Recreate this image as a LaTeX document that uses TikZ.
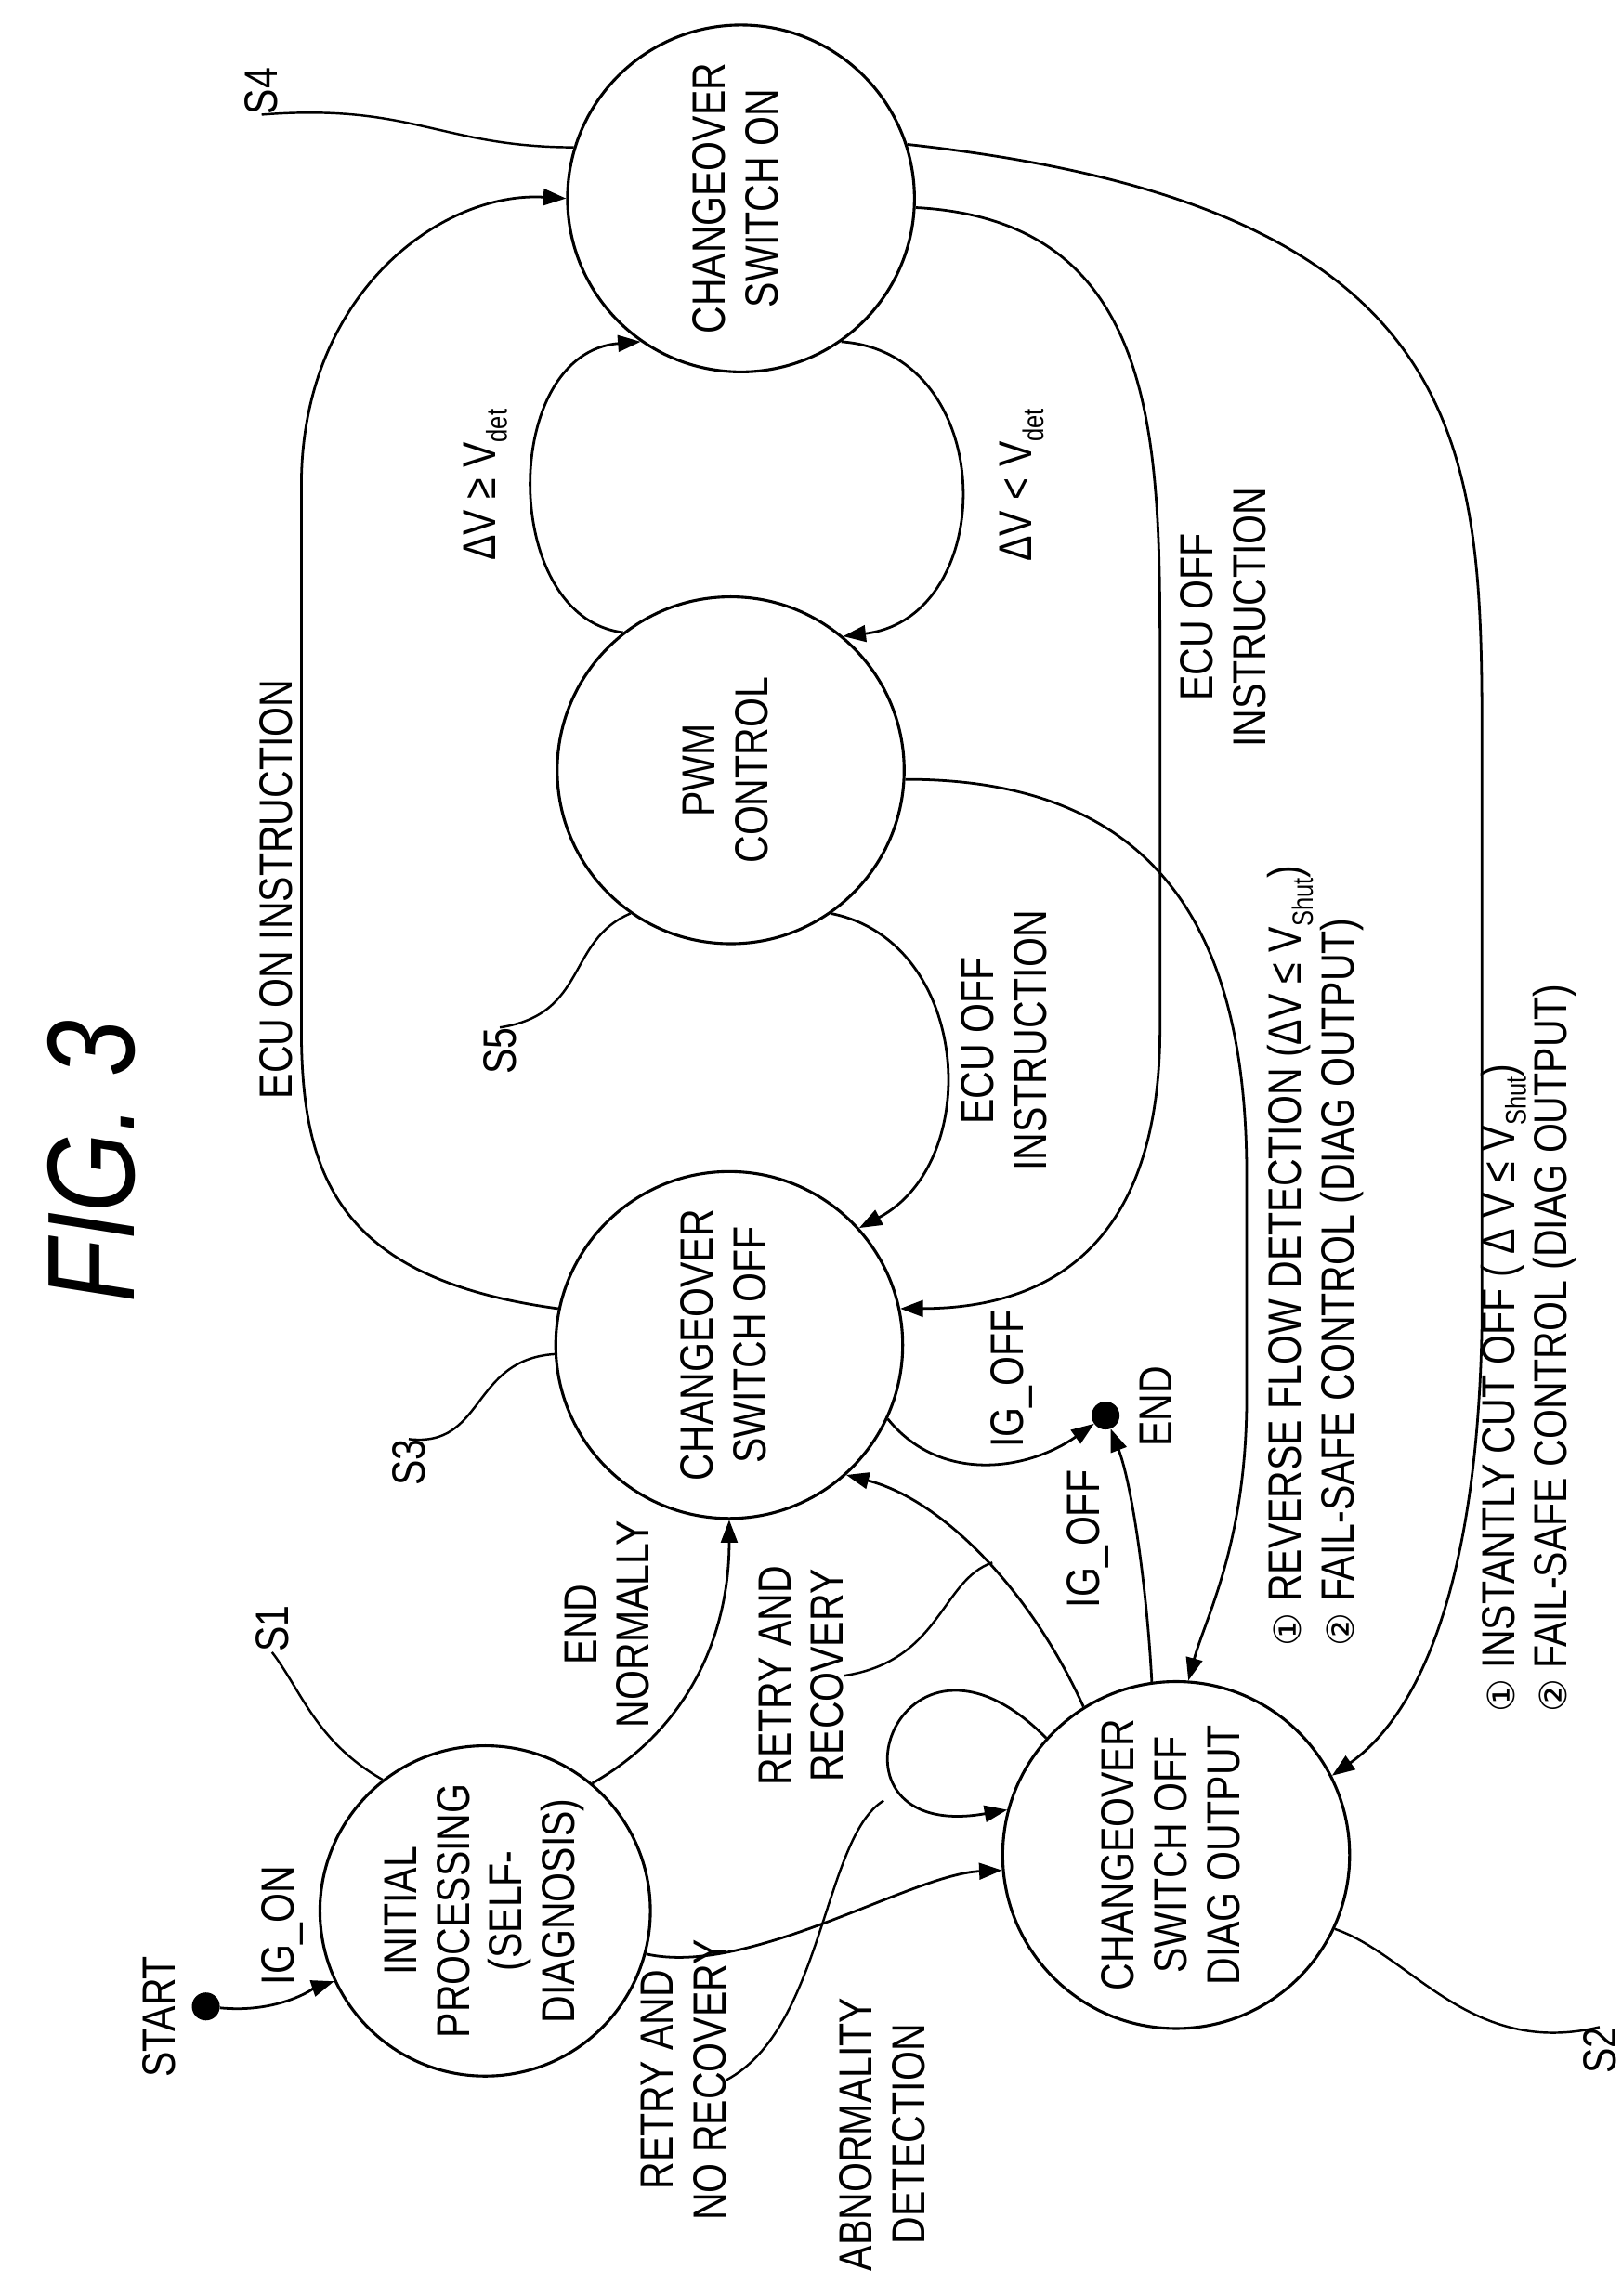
\documentclass[tikz,border=0pt]{standalone}
\usepackage{fontspec}
\setmainfont{Liberation Sans}[FakeStretch=0.82]
\newfontfamily\symf{DejaVu Sans}
\usetikzlibrary{arrows.meta}
\newcommand{\sbx}[1]{\raisebox{-0.25em}{\fontsize{28}{28}\selectfont #1}}
\newcommand{\cnum}[1]{{\symf\fontsize{36}{36}\selectfont #1}}
\newcommand{\rt}[1]{\rotatebox{90}{\begin{tabular}{@{}c@{}}#1\end{tabular}}}
\begin{document}
\begin{tikzpicture}[x=0.05cm,y=-0.05cm,
  st/.style={circle,draw,line width=2.8pt,minimum size=11.8cm,inner sep=0pt,align=center,font=\fontsize{45}{51}\selectfont},
  lb/.style={rotate=90,align=center,font=\fontsize{45}{51}\selectfont,inner sep=0pt},
  ed/.style={line width=2.5pt,-{Triangle[length=22pt,width=16pt]}},
  ld/.style={line width=2.2pt},
  dot/.style={circle,fill=black,minimum size=0.95cm,inner sep=0pt}]
\useasboundingbox (0,0) rectangle (1103,1562);
\node[lb,font=\itshape\fontsize{120}{120}\selectfont] (title) at (62,790) {FIG. 3};
\node[st] (s4) at (504,135) {\rt{CHANGEOVER\\SWITCH ON}};
\node[st] (s5) at (497,524) {\rt{PWM\\CONTROL}};
\node[st] (s3) at (496,915) {\rt{CHANGEOVER\\SWITCH OFF}};
\node[st,minimum size=10cm] (s1) at (330,1300) {\rt{INITIAL\\PROCESSING\\(SELF-\\DIAGNOSIS)}};
\node[st] (s2) at (800,1262) {\rt{CHANGEOVER\\SWITCH OFF\\DIAG OUTPUT}};
\node[dot] (start) at (140,1365) {};
\node[dot] (end) at (752,963) {};
\node[lb] (lstart) at (108,1372) {START};
\node[lb] (lend) at (786,957) {END};
% state labels
\node[lb] (l1) at (185,1108) {S1};
\node[lb] (l2) at (1088,1395) {S2};
\node[lb] (l3) at (278,995) {S3};
\node[lb] (l4) at (178,62) {S4};
\node[lb] (l5) at (340,715) {S5};
\draw[ld] (l1.west) .. controls (205,1150) and (215,1185) .. (s1.128);
\draw[ld] (l2.east) .. controls (1000,1400) and (960,1330) .. (s2.-25);
\draw[ld] (l3.east) .. controls (330,985) and (320,925) .. (s3.183);
\draw[ld] (l4.west) .. controls (280,70) and (300,100) .. (s4.163);
\draw[ld] (l5.east) .. controls (400,690) and (385,640) .. (s5.235);
% edges
\draw[ed] (start) .. controls (190,1370) and (215,1352) .. (s1.205);
\node[lb] (eig) at (192,1310) {IG\_ON};
\draw[ed] (s1.50) .. controls (470,1175) and (496,1110) .. (s3.270);
\node[lb] (en) at (413,1105) {END\\NORMALLY};
\draw[ed] (s1.-15) .. controls (510,1345) and (620,1275) .. (s2.185);
\node[lb] (ab) at (600,1452) {ABNORMALITY\\DETECTION};
\draw[ed] (s2.138) .. controls (610,1080) and (550,1255) .. (s2.165);
\coordinate (lp) at (601,1225);
\node[lb] (rn) at (465,1415) {RETRY AND\\NO RECOVERY};
\draw[ld] (rn.south) .. controls (560,1380) and (560,1250) .. (lp);
\draw[ed] (s2.122) .. controls (700,1080) and (640,1020) .. (s3.-48);
\coordinate (rp) at (675,1063);
\node[lb] (rr) at (545,1140) {RETRY AND\\RECOVERY};
\draw[ld] (rr.south) .. controls (640,1130) and (640,1075) .. (rp);
\draw[ed] (s2.98) .. controls (780,1080) and (770,1010) .. (end);
\node[lb] (ig2) at (740,1047) {IG\_OFF};
\draw[ed] (s3.-25) .. controls (640,1010) and (700,1000) .. (end);
\node[lb] (ig1) at (688,938) {IG\_OFF};
\draw[ed] (s3.168) .. controls (230,870) and (205,800) .. (205,700) -- (205,330) .. controls (205,200) and (300,130) .. (s4.180);
\node[lb] (eon) at (188,605) {ECU ON INSTRUCTION};
\draw[ed] (s5.128) .. controls (340,420) and (340,240) .. (s4.235);
\node[lb] (dv1) at (330,330) {ΔV ≥ V\sbx{det}};
\draw[ed] (s4.-55) .. controls (680,240) and (680,420) .. (s5.50);
\node[lb] (dv2) at (695,330) {ΔV < V\sbx{det}};
\draw[ed] (s5.-55) .. controls (660,640) and (670,790) .. (s3.42);
\node[lb] (eoff1) at (683,708) {ECU OFF\\INSTRUCTION};
\draw[ed] (s4.-3) .. controls (789,150) and (789,300) .. (789,450) -- (789,700) .. controls (789,860) and (700,890) .. (s3.12);
\node[lb] (eoff2) at (832,420) {ECU OFF\\INSTRUCTION};
\draw[ed] (s5.-3) .. controls (800,530) and (848,650) .. (848,800) -- (848,950) .. controls (848,1050) and (820,1100) .. (s2.86);
\draw[ed] (s4.18) .. controls (1000,140) and (1008,300) .. (1008,500) -- (1008,900) .. controls (1005,1090) and (960,1170) .. (s2.27);
% legends
\node[lb,align=left,anchor=north west] (leg1) at (862,1120) {\cnum{①} REVERSE FLOW DETECTION (ΔV ≤ V\sbx{Shut})\\\cnum{②} FAIL-SAFE CONTROL (DIAG OUTPUT)};
\node[lb,align=left,anchor=north west] (leg2) at (1007,1165) {\cnum{①} INSTANTLY CUT OFF ( Δ V ≤ V\sbx{Shut})\\\cnum{②} FAIL-SAFE CONTROL (DIAG OUTPUT)};
\end{tikzpicture}
\end{document}
